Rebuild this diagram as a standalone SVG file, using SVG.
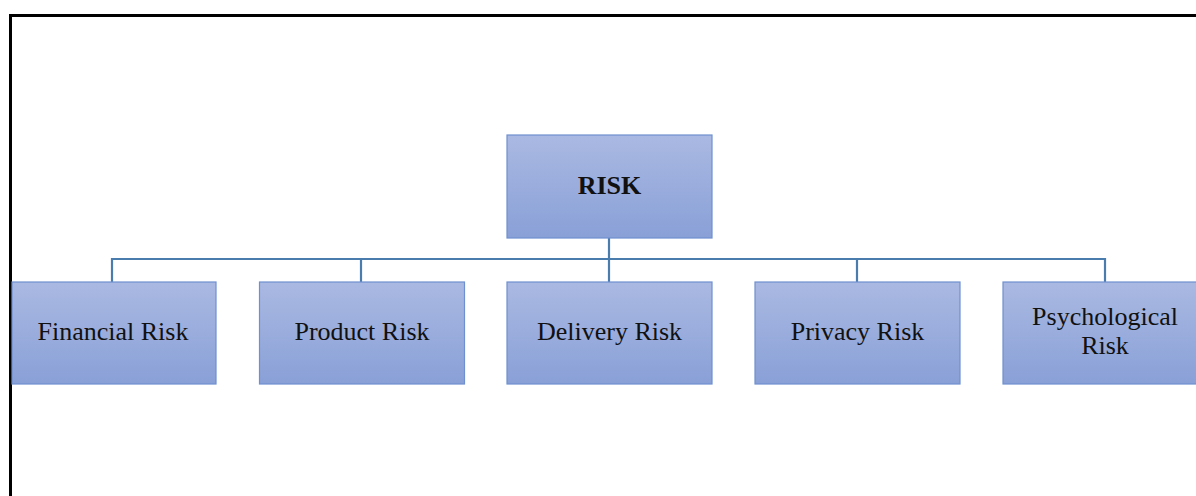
<svg xmlns="http://www.w3.org/2000/svg" width="1196" height="496" viewBox="0 0 1196 496">
<style>
.box{fill:url(#g);stroke:#6f90d0;stroke-width:1.2}
.t{font-family:"Liberation Serif","Times New Roman",serif;font-size:26px;fill:#111;text-anchor:middle}
.b{font-weight:bold}
.c{fill:none;stroke:#4a7cae;stroke-width:2.2}
</style>
<defs>
<linearGradient id="g" x1="0" y1="0" x2="0" y2="1">
<stop offset="0" stop-color="#aab9e2"/>
<stop offset="1" stop-color="#89a0d7"/>
</linearGradient>
</defs>
<rect width="1196" height="496" fill="#fff"/>
<path d="M10.5 496 V15.5 H1196" fill="none" stroke="#000" stroke-width="3"/>
<g id="connectors">
<path class="c" d="M609 238 V259"/>
<path class="c" d="M112 282 V259 H1105 V282"/>
<path class="c" d="M361 259 V282 M609 259 V282 M857 259 V282"/>
</g>
<g id="risk"><rect class="box" x="507" y="135" width="205" height="103"/><text class="t b" x="609.5" y="194">RISK</text></g>
<g id="financial"><rect class="box" x="12" y="282" width="204" height="102"/><text class="t" x="113" y="340">Financial Risk</text></g>
<g id="product"><rect class="box" x="259.5" y="282" width="205" height="102"/><text class="t" x="362" y="340">Product Risk</text></g>
<g id="delivery"><rect class="box" x="507" y="282" width="205" height="102"/><text class="t" x="609.5" y="340">Delivery Risk</text></g>
<g id="privacy"><rect class="box" x="755" y="282" width="205" height="102"/><text class="t" x="857.5" y="340">Privacy Risk</text></g>
<g id="psychological"><rect class="box" x="1003" y="282" width="205" height="102"/><text class="t" x="1105" y="325">Psychological</text><text class="t" x="1105" y="354">Risk</text></g>
</svg>
